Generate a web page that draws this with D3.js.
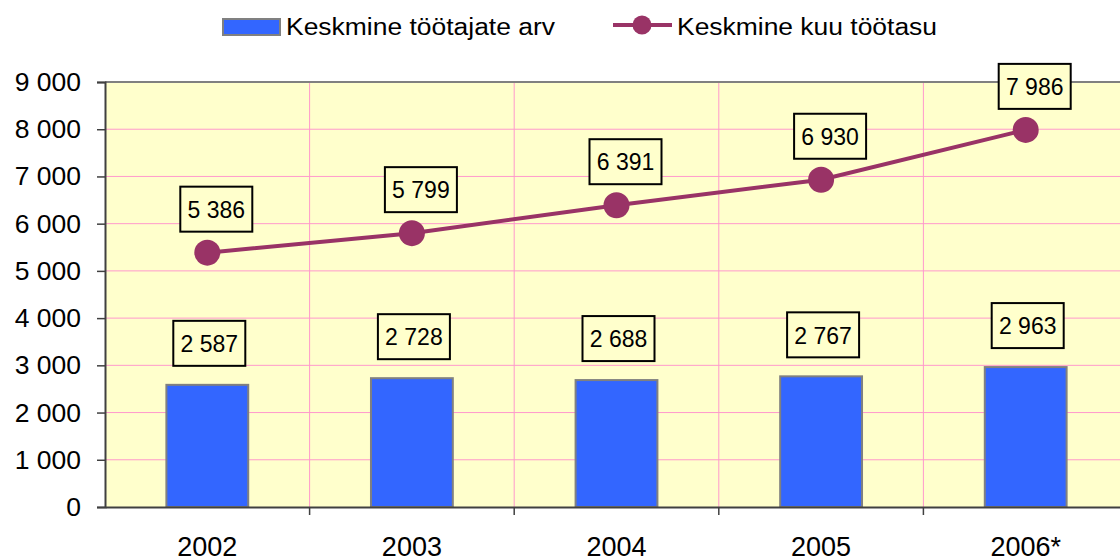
<!DOCTYPE html>
<html>
<head>
<meta charset="utf-8">
<script src="https://cdn.jsdelivr.net/npm/d3@7"></script>
<style>
  body { margin: 0; background: #fff; }
  svg { display: block; font-family: Arial, "Liberation Sans", sans-serif; }
</style>
</head>
<body>
<div id="chart"></div>
<script>
// chart data
const years = ["2002", "2003", "2004", "2005", "2006*"];
const workers = [2587, 2728, 2688, 2767, 2963];   // Keskmine töötajate arv
const wages = [5386, 5799, 6391, 6930, 7986];     // Keskmine kuu töötasu
const yTicks = [0, 1000, 2000, 3000, 4000, 5000, 6000, 7000, 8000, 9000];
const seriesNames = ["Keskmine töötajate arv", "Keskmine kuu töötasu"];

const W = 1120, H = 558;
const margin = { top: 82, right: -8, bottom: 51, left: 105 };

const loc = d3.formatLocale({ decimal: ",", thousands: " ", grouping: [3], currency: ["", ""] });
const fmt = loc.format(",d");

const svg = d3.select("#chart").append("svg")
    .attr("width", W)
    .attr("height", H);

const x = d3.scaleBand()
    .domain(years)
    .range([margin.left, W - margin.right])
    .paddingInner(0)
    .paddingOuter(0);

const y = d3.scaleLinear()
    .domain([0, 9000])
    .range([H - margin.bottom, margin.top]);

const plotL = margin.left, plotR = W - margin.right;
const plotT = margin.top, plotB = H - margin.bottom;

// plot background
svg.append("rect")
    .attr("x", plotL).attr("y", plotT)
    .attr("width", plotR - plotL).attr("height", plotB - plotT)
    .attr("fill", "#ffffcc");

// horizontal grid
svg.append("g")
    .selectAll("line")
    .data(yTicks.slice(1, -1))
    .join("line")
    .attr("x1", plotL).attr("x2", plotR)
    .attr("y1", d => y(d)).attr("y2", d => y(d))
    .attr("stroke", "#ff99cc").attr("stroke-width", 1);

// vertical grid at category boundaries
svg.append("g")
    .selectAll("line")
    .data(years.slice(1))
    .join("line")
    .attr("x1", d => x(d)).attr("x2", d => x(d))
    .attr("y1", plotT).attr("y2", plotB)
    .attr("stroke", "#ff99cc").attr("stroke-width", 1);

// top border
svg.append("line")
    .attr("x1", plotL).attr("x2", plotR)
    .attr("y1", plotT).attr("y2", plotT)
    .attr("stroke", "#808080").attr("stroke-width", 2);

// bars
const barW = x.bandwidth() * 0.4;
svg.append("g")
    .selectAll("rect")
    .data(workers)
    .join("rect")
    .attr("x", (d, i) => x(years[i]) + x.bandwidth() / 2 - barW / 2)
    .attr("y", d => y(d))
    .attr("width", barW)
    .attr("height", d => y(0) - y(d))
    .attr("fill", "#3366ff")
    .attr("stroke", "#808080")
    .attr("stroke-width", 2);

// y axis
const yAxis = svg.append("g")
    .attr("transform", `translate(${plotL},0)`)
    .call(d3.axisLeft(y).tickValues(yTicks).tickFormat(fmt).tickSizeOuter(0).tickSize(8).tickPadding(16));
yAxis.select(".domain").attr("stroke", "#404040").attr("stroke-width", 2);
yAxis.selectAll(".tick line").attr("stroke", "#404040").attr("stroke-width", 1.5);
yAxis.selectAll(".tick text")
    .attr("font-size", 26.5)
    .attr("font-family", "Arial, 'Liberation Sans', sans-serif")
    .attr("fill", "#000");

// x axis, ticks at category boundaries
const xAxis = svg.append("g")
    .attr("transform", `translate(0,${plotB})`)
    .call(d3.axisBottom(x).tickSize(0).tickPadding(0));
xAxis.select(".domain").attr("stroke", "#404040").attr("stroke-width", 2);
xAxis.selectAll(".tick text")
    .attr("font-size", 27)
    .attr("font-family", "Arial, 'Liberation Sans', sans-serif")
    .attr("fill", "#000")
    .attr("y", 49)
    .attr("dy", 0);
xAxis.append("g")
    .selectAll("line")
    .data(years.slice(1))
    .join("line")
    .attr("x1", d => x(d)).attr("x2", d => x(d))
    .attr("y1", 0).attr("y2", 8)
    .attr("stroke", "#404040").attr("stroke-width", 1.5);

// wage line
const cx = (d, i) => x(years[i]) + x.bandwidth() / 2;
const line = d3.line()
    .x((d, i) => cx(d, i))
    .y(d => y(d));

svg.append("path")
    .datum(wages)
    .attr("d", line)
    .attr("fill", "none")
    .attr("stroke", "#993366")
    .attr("stroke-width", 4);

svg.append("g")
    .selectAll("circle")
    .data(wages)
    .join("circle")
    .attr("cx", cx)
    .attr("cy", d => y(d))
    .attr("r", 13)
    .attr("fill", "#993366");

// data labels
function labels(values, dx, dy) {
    const g = svg.append("g");
    const lg = g.selectAll("g")
        .data(values)
        .join("g")
        .attr("transform", (d, i) => `translate(${cx(d, i) + dx},${y(d) - dy})`);
    lg.append("rect")
        .attr("x", -36).attr("y", -23)
        .attr("width", 72).attr("height", 45)
        .attr("fill", "#ffffcc")
        .attr("stroke", "#000")
        .attr("stroke-width", 2);
    lg.append("text")
        .attr("text-anchor", "middle")
        .attr("dy", "0.36em")
        .attr("font-size", 23)
        .text(d => fmt(d));
}
labels(workers, 2, 41);
labels(wages, 9, 43);

// legend
const legend = svg.append("g");
legend.append("rect")
    .attr("x", 223).attr("y", 19)
    .attr("width", 57).attr("height", 16)
    .attr("fill", "#3366ff")
    .attr("stroke", "#808080")
    .attr("stroke-width", 2);
legend.append("text")
    .attr("x", 286).attr("y", 35)
    .attr("font-size", 23)
    .attr("textLength", 269)
    .attr("lengthAdjust", "spacingAndGlyphs")
    .text(seriesNames[0]);
legend.append("line")
    .attr("x1", 613).attr("x2", 672)
    .attr("y1", 25).attr("y2", 25)
    .attr("stroke", "#993366")
    .attr("stroke-width", 4);
legend.append("circle")
    .attr("cx", 642).attr("cy", 25)
    .attr("r", 9.5)
    .attr("fill", "#993366");
legend.append("text")
    .attr("x", 677).attr("y", 35)
    .attr("font-size", 23)
    .attr("textLength", 260)
    .attr("lengthAdjust", "spacingAndGlyphs")
    .text(seriesNames[1]);
</script>
</body>
</html>
